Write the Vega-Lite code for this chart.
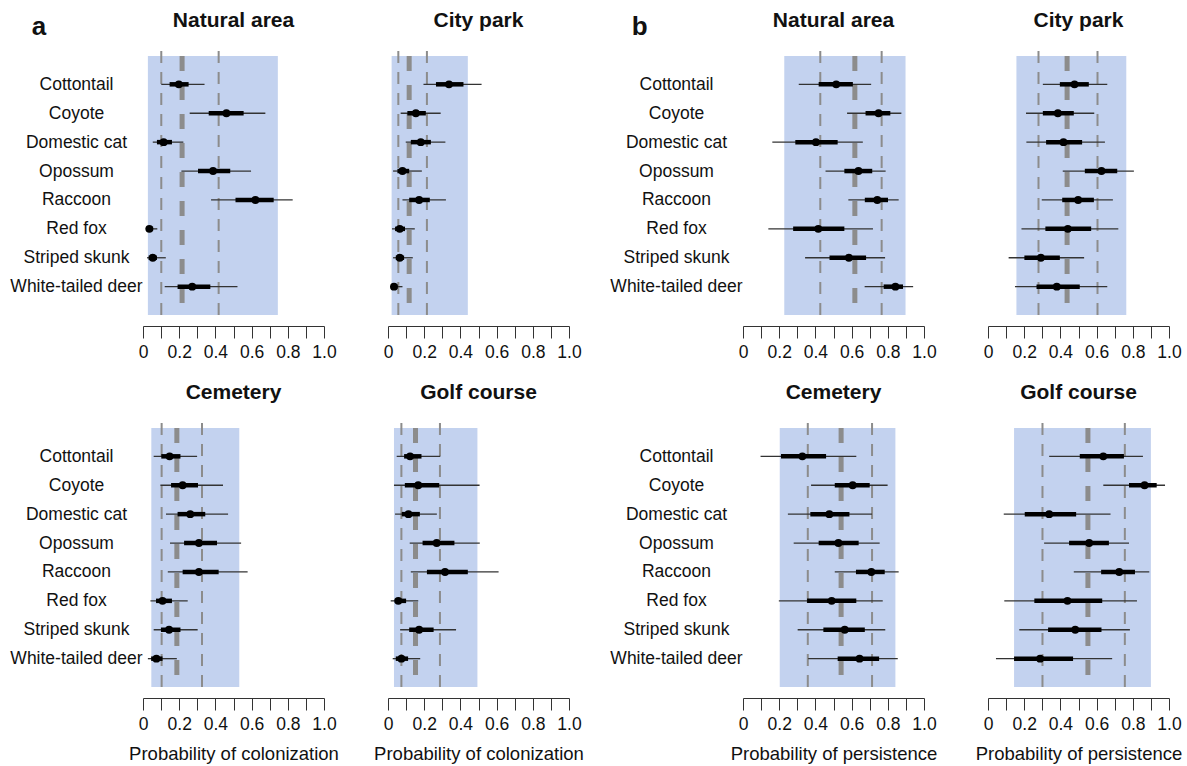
{
"$schema":"https://vega.github.io/schema/vega-lite/v6.json",
"background":"white",
"padding":{"left":9,"top":10,"right":5,"bottom":3},
"config":{
 "view":{"stroke":null},
 "font":"Liberation Sans",
 "title":{"font":"Liberation Sans","fontSize":21,"fontWeight":"bold","color":"#111","baseline":"alphabetic","offset":19},
 "axis":{"labelFont":"Liberation Sans","titleFont":"Liberation Sans","labelFontSize":17.5,"labelColor":"#111","titleColor":"#111","titleFontWeight":"normal","titleFontSize":18.5,"grid":false,"domainColor":"#333","tickColor":"#333","labelFlush":false},
 "axisX":{"tickSize":12,"offset":11,"labelPadding":5,"titlePadding":12,"labelOverlap":false},
 "axisY":{"domain":false,"ticks":false,"tickSize":0,"labelAlign":"center","labelPadding":67,"labelBaseline":"middle"}
},
"datasets":{
"ref":[
{"measure":"Colonization","site":"Natural area","band_lo":0.027,"band_hi":0.745,"ci_lo":0.101,"ci_hi":0.418,"mean":0.216},
{"measure":"Colonization","site":"City park","band_lo":0.020,"band_hi":0.441,"ci_lo":0.057,"ci_hi":0.215,"mean":0.117},
{"measure":"Colonization","site":"Cemetery","band_lo":0.046,"band_hi":0.532,"ci_lo":0.103,"ci_hi":0.326,"mean":0.187},
{"measure":"Colonization","site":"Golf course","band_lo":0.033,"band_hi":0.494,"ci_lo":0.074,"ci_hi":0.287,"mean":0.152},
{"measure":"Persistence","site":"Natural area","band_lo":0.228,"band_hi":0.898,"ci_lo":0.427,"ci_hi":0.766,"mean":0.618},
{"measure":"Persistence","site":"City park","band_lo":0.157,"band_hi":0.764,"ci_lo":0.279,"ci_hi":0.605,"mean":0.437},
{"measure":"Persistence","site":"Cemetery","band_lo":0.203,"band_hi":0.842,"ci_lo":0.358,"ci_hi":0.713,"mean":0.542},
{"measure":"Persistence","site":"Golf course","band_lo":0.144,"band_hi":0.900,"ci_lo":0.301,"ci_hi":0.756,"mean":0.552}
],
"est":[
{"measure":"Colonization","site":"Natural area","species":"Cottontail","est":0.198,"lo50":0.147,"hi50":0.252,"lo95":0.101,"hi95":0.340},
{"measure":"Colonization","site":"Natural area","species":"Coyote","est":0.461,"lo50":0.363,"hi50":0.556,"lo95":0.258,"hi95":0.676},
{"measure":"Colonization","site":"Natural area","species":"Domestic cat","est":0.114,"lo50":0.077,"hi50":0.160,"lo95":0.054,"hi95":0.223},
{"measure":"Colonization","site":"Natural area","species":"Opossum","est":0.387,"lo50":0.304,"hi50":0.482,"lo95":0.212,"hi95":0.597},
{"measure":"Colonization","site":"Natural area","species":"Raccoon","est":0.621,"lo50":0.511,"hi50":0.722,"lo95":0.376,"hi95":0.827},
{"measure":"Colonization","site":"Natural area","species":"Red fox","est":0.035,"lo50":0.022,"hi50":0.056,"lo95":0.015,"hi95":0.079},
{"measure":"Colonization","site":"Natural area","species":"Striped skunk","est":0.054,"lo50":0.031,"hi50":0.077,"lo95":0.022,"hi95":0.126},
{"measure":"Colonization","site":"Natural area","species":"White-tailed deer","est":0.272,"lo50":0.191,"hi50":0.372,"lo95":0.120,"hi95":0.522},
{"measure":"Colonization","site":"City park","species":"Cottontail","est":0.337,"lo50":0.265,"hi50":0.417,"lo95":0.196,"hi95":0.517},
{"measure":"Colonization","site":"City park","species":"Coyote","est":0.154,"lo50":0.107,"hi50":0.209,"lo95":0.070,"hi95":0.291},
{"measure":"Colonization","site":"City park","species":"Domestic cat","est":0.181,"lo50":0.126,"hi50":0.237,"lo95":0.098,"hi95":0.317},
{"measure":"Colonization","site":"City park","species":"Opossum","est":0.080,"lo50":0.052,"hi50":0.117,"lo95":0.028,"hi95":0.187},
{"measure":"Colonization","site":"City park","species":"Raccoon","est":0.172,"lo50":0.117,"hi50":0.231,"lo95":0.080,"hi95":0.320},
{"measure":"Colonization","site":"City park","species":"Red fox","est":0.065,"lo50":0.039,"hi50":0.094,"lo95":0.022,"hi95":0.148},
{"measure":"Colonization","site":"City park","species":"Striped skunk","est":0.065,"lo50":0.043,"hi50":0.089,"lo95":0.028,"hi95":0.137},
{"measure":"Colonization","site":"City park","species":"White-tailed deer","est":0.033,"lo50":0.019,"hi50":0.052,"lo95":0.013,"hi95":0.080},
{"measure":"Colonization","site":"Cemetery","species":"Cottontail","est":0.147,"lo50":0.101,"hi50":0.207,"lo95":0.059,"hi95":0.299},
{"measure":"Colonization","site":"Cemetery","species":"Coyote","est":0.219,"lo50":0.155,"hi50":0.304,"lo95":0.096,"hi95":0.442},
{"measure":"Colonization","site":"Cemetery","species":"Domestic cat","est":0.261,"lo50":0.191,"hi50":0.344,"lo95":0.127,"hi95":0.470},
{"measure":"Colonization","site":"Cemetery","species":"Opossum","est":0.309,"lo50":0.227,"hi50":0.409,"lo95":0.149,"hi95":0.542},
{"measure":"Colonization","site":"Cemetery","species":"Raccoon","est":0.309,"lo50":0.219,"hi50":0.418,"lo95":0.137,"hi95":0.578},
{"measure":"Colonization","site":"Cemetery","species":"Red fox","est":0.108,"lo50":0.072,"hi50":0.160,"lo95":0.041,"hi95":0.247},
{"measure":"Colonization","site":"Cemetery","species":"Striped skunk","est":0.144,"lo50":0.099,"hi50":0.207,"lo95":0.059,"hi95":0.302},
{"measure":"Colonization","site":"Cemetery","species":"White-tailed deer","est":0.074,"lo50":0.045,"hi50":0.108,"lo95":0.027,"hi95":0.187},
{"measure":"Colonization","site":"Golf course","species":"Cottontail","est":0.122,"lo50":0.089,"hi50":0.185,"lo95":0.048,"hi95":0.289},
{"measure":"Colonization","site":"Golf course","species":"Coyote","est":0.167,"lo50":0.093,"hi50":0.283,"lo95":0.033,"hi95":0.506},
{"measure":"Colonization","site":"Golf course","species":"Domestic cat","est":0.113,"lo50":0.076,"hi50":0.176,"lo95":0.039,"hi95":0.270},
{"measure":"Colonization","site":"Golf course","species":"Opossum","est":0.269,"lo50":0.191,"hi50":0.367,"lo95":0.120,"hi95":0.507},
{"measure":"Colonization","site":"Golf course","species":"Raccoon","est":0.315,"lo50":0.215,"hi50":0.441,"lo95":0.126,"hi95":0.611},
{"measure":"Colonization","site":"Golf course","species":"Red fox","est":0.057,"lo50":0.037,"hi50":0.100,"lo95":0.015,"hi95":0.167},
{"measure":"Colonization","site":"Golf course","species":"Striped skunk","est":0.172,"lo50":0.117,"hi50":0.252,"lo95":0.067,"hi95":0.376},
{"measure":"Colonization","site":"Golf course","species":"White-tailed deer","est":0.074,"lo50":0.043,"hi50":0.111,"lo95":0.026,"hi95":0.178},
{"measure":"Persistence","site":"Natural area","species":"Cottontail","est":0.515,"lo50":0.418,"hi50":0.607,"lo95":0.308,"hi95":0.708},
{"measure":"Persistence","site":"Natural area","species":"Coyote","est":0.749,"lo50":0.677,"hi50":0.814,"lo95":0.575,"hi95":0.875},
{"measure":"Persistence","site":"Natural area","species":"Domestic cat","est":0.403,"lo50":0.289,"hi50":0.523,"lo95":0.162,"hi95":0.662},
{"measure":"Persistence","site":"Natural area","species":"Opossum","est":0.638,"lo50":0.560,"hi50":0.714,"lo95":0.456,"hi95":0.788},
{"measure":"Persistence","site":"Natural area","species":"Raccoon","est":0.742,"lo50":0.673,"hi50":0.801,"lo95":0.582,"hi95":0.860},
{"measure":"Persistence","site":"Natural area","species":"Red fox","est":0.416,"lo50":0.277,"hi50":0.560,"lo95":0.140,"hi95":0.718},
{"measure":"Persistence","site":"Natural area","species":"Striped skunk","est":0.585,"lo50":0.478,"hi50":0.680,"lo95":0.343,"hi95":0.785},
{"measure":"Persistence","site":"Natural area","species":"White-tailed deer","est":0.842,"lo50":0.777,"hi50":0.884,"lo95":0.672,"hi95":0.940},
{"measure":"Persistence","site":"City park","species":"Cottontail","est":0.478,"lo50":0.397,"hi50":0.557,"lo95":0.303,"hi95":0.659},
{"measure":"Persistence","site":"City park","species":"Coyote","est":0.386,"lo50":0.303,"hi50":0.474,"lo95":0.210,"hi95":0.587},
{"measure":"Persistence","site":"City park","species":"Domestic cat","est":0.417,"lo50":0.321,"hi50":0.520,"lo95":0.212,"hi95":0.646},
{"measure":"Persistence","site":"City park","species":"Opossum","est":0.627,"lo50":0.535,"hi50":0.714,"lo95":0.413,"hi95":0.806},
{"measure":"Persistence","site":"City park","species":"Raccoon","est":0.498,"lo50":0.410,"hi50":0.585,"lo95":0.297,"hi95":0.690},
{"measure":"Persistence","site":"City park","species":"Red fox","est":0.441,"lo50":0.317,"hi50":0.570,"lo95":0.185,"hi95":0.720},
{"measure":"Persistence","site":"City park","species":"Striped skunk","est":0.292,"lo50":0.201,"hi50":0.397,"lo95":0.114,"hi95":0.531},
{"measure":"Persistence","site":"City park","species":"White-tailed deer","est":0.380,"lo50":0.268,"hi50":0.507,"lo95":0.149,"hi95":0.659},
{"measure":"Persistence","site":"Cemetery","species":"Cottontail","est":0.328,"lo50":0.210,"hi50":0.459,"lo95":0.097,"hi95":0.626},
{"measure":"Persistence","site":"Cemetery","species":"Coyote","est":0.606,"lo50":0.507,"hi50":0.700,"lo95":0.376,"hi95":0.799},
{"measure":"Persistence","site":"Cemetery","species":"Domestic cat","est":0.477,"lo50":0.372,"hi50":0.588,"lo95":0.248,"hi95":0.713},
{"measure":"Persistence","site":"Cemetery","species":"Opossum","est":0.527,"lo50":0.418,"hi50":0.639,"lo95":0.280,"hi95":0.755},
{"measure":"Persistence","site":"Cemetery","species":"Raccoon","est":0.709,"lo50":0.624,"hi50":0.783,"lo95":0.507,"hi95":0.860},
{"measure":"Persistence","site":"Cemetery","species":"Red fox","est":0.490,"lo50":0.354,"hi50":0.626,"lo95":0.198,"hi95":0.772},
{"measure":"Persistence","site":"Cemetery","species":"Striped skunk","est":0.562,"lo50":0.444,"hi50":0.673,"lo95":0.302,"hi95":0.786},
{"measure":"Persistence","site":"Cemetery","species":"White-tailed deer","est":0.644,"lo50":0.523,"hi50":0.752,"lo95":0.360,"hi95":0.855},
{"measure":"Persistence","site":"Golf course","species":"Cottontail","est":0.637,"lo50":0.507,"hi50":0.751,"lo95":0.338,"hi95":0.856},
{"measure":"Persistence","site":"Golf course","species":"Coyote","est":0.865,"lo50":0.779,"hi50":0.932,"lo95":0.637,"hi95":0.978},
{"measure":"Persistence","site":"Golf course","species":"Domestic cat","est":0.338,"lo50":0.203,"hi50":0.487,"lo95":0.087,"hi95":0.677},
{"measure":"Persistence","site":"Golf course","species":"Opossum","est":0.559,"lo50":0.448,"hi50":0.668,"lo95":0.310,"hi95":0.779},
{"measure":"Persistence","site":"Golf course","species":"Raccoon","est":0.725,"lo50":0.625,"hi50":0.812,"lo95":0.474,"hi95":0.891},
{"measure":"Persistence","site":"Golf course","species":"Red fox","est":0.439,"lo50":0.256,"hi50":0.631,"lo95":0.090,"hi95":0.823},
{"measure":"Persistence","site":"Golf course","species":"Striped skunk","est":0.482,"lo50":0.332,"hi50":0.627,"lo95":0.173,"hi95":0.784},
{"measure":"Persistence","site":"Golf course","species":"White-tailed deer","est":0.288,"lo50":0.144,"hi50":0.470,"lo95":0.044,"hi95":0.686}
]
},
"hconcat":[
{"title":{"text":"a","anchor":"start","fontSize":26,"dx":22,"offset":-51,"baseline":"alphabetic"},
 "vconcat":[
  {"hconcat":[
   {"width":181,"height":259,"title":"Natural area","resolve":{"axis":{"x":"independent"}},"layer":[
    {"data":{"name":"ref"},"transform":[{"filter":"datum.measure==='Colonization' && datum.site==='Natural area'"}],"mark":{"type":"rect","color":"#c3d2ef"},"encoding":{"x":{"field":"band_lo","type":"quantitative","scale":{"domain":[0,1]},"axis":{"orient":"bottom","title":null,"values":[0,0.1,0.2,0.3,0.4,0.5,0.6,0.7,0.8,0.9,1],"labelOverlap":false,"labelExpr":"datum.value==0 ? '0' : (round(datum.value*10)%2==0 ? format(datum.value,'.1f') : '')"}},"x2":{"field":"band_hi"}}},
    {"data":{"name":"ref"},"transform":[{"filter":"datum.measure==='Colonization' && datum.site==='Natural area'"},{"fold":["ci_lo","ci_hi"],"as":["bound","value"]}],"mark":{"type":"rule","color":"#8c8c8c","strokeWidth":2,"strokeDash":[12,9],"yOffset":-5,"y2Offset":11},"encoding":{"x":{"field":"value","type":"quantitative","axis":null}}},
    {"data":{"name":"ref"},"transform":[{"filter":"datum.measure==='Colonization' && datum.site==='Natural area'"}],"mark":{"type":"rule","color":"#8c8c8c","strokeWidth":5,"strokeDash":[15,14],"y2Offset":11},"encoding":{"x":{"field":"mean","type":"quantitative","axis":null}}},
    {"data":{"name":"est"},"transform":[{"filter":"datum.measure==='Colonization' && datum.site==='Natural area'"}],"mark":{"type":"rule","color":"#333","strokeWidth":1.3},"encoding":{"y":{"field":"species","type":"nominal","sort":null,"scale":{"type":"point","padding":0.98},"axis":{"title":null}},"x":{"field":"lo95","type":"quantitative","axis":null},"x2":{"field":"hi95"}}},
    {"data":{"name":"est"},"transform":[{"filter":"datum.measure==='Colonization' && datum.site==='Natural area'"}],"mark":{"type":"rule","color":"#000","strokeWidth":4.5},"encoding":{"y":{"field":"species","type":"nominal","sort":null},"x":{"field":"lo50","type":"quantitative","axis":null},"x2":{"field":"hi50"}}},
    {"data":{"name":"est"},"transform":[{"filter":"datum.measure==='Colonization' && datum.site==='Natural area'"}],"mark":{"type":"circle","color":"#000","size":62,"opacity":1},"encoding":{"y":{"field":"species","type":"nominal","sort":null},"x":{"field":"est","type":"quantitative","axis":null}}}
   ]},
   {"width":181,"height":259,"title":"City park","resolve":{"axis":{"x":"independent"}},"layer":[
    {"data":{"name":"ref"},"transform":[{"filter":"datum.measure==='Colonization' && datum.site==='City park'"}],"mark":{"type":"rect","color":"#c3d2ef"},"encoding":{"x":{"field":"band_lo","type":"quantitative","scale":{"domain":[0,1]},"axis":{"orient":"bottom","title":null,"values":[0,0.1,0.2,0.3,0.4,0.5,0.6,0.7,0.8,0.9,1],"labelOverlap":false,"labelExpr":"datum.value==0 ? '0' : (round(datum.value*10)%2==0 ? format(datum.value,'.1f') : '')"}},"x2":{"field":"band_hi"}}},
    {"data":{"name":"ref"},"transform":[{"filter":"datum.measure==='Colonization' && datum.site==='City park'"},{"fold":["ci_lo","ci_hi"],"as":["bound","value"]}],"mark":{"type":"rule","color":"#8c8c8c","strokeWidth":2,"strokeDash":[12,9],"yOffset":-5,"y2Offset":11},"encoding":{"x":{"field":"value","type":"quantitative","axis":null}}},
    {"data":{"name":"ref"},"transform":[{"filter":"datum.measure==='Colonization' && datum.site==='City park'"}],"mark":{"type":"rule","color":"#8c8c8c","strokeWidth":5,"strokeDash":[15,14],"y2Offset":11},"encoding":{"x":{"field":"mean","type":"quantitative","axis":null}}},
    {"data":{"name":"est"},"transform":[{"filter":"datum.measure==='Colonization' && datum.site==='City park'"}],"mark":{"type":"rule","color":"#333","strokeWidth":1.3},"encoding":{"y":{"field":"species","type":"nominal","sort":null,"scale":{"type":"point","padding":0.98},"axis":null},"x":{"field":"lo95","type":"quantitative","axis":null},"x2":{"field":"hi95"}}},
    {"data":{"name":"est"},"transform":[{"filter":"datum.measure==='Colonization' && datum.site==='City park'"}],"mark":{"type":"rule","color":"#000","strokeWidth":4.5},"encoding":{"y":{"field":"species","type":"nominal","sort":null,"axis":null},"x":{"field":"lo50","type":"quantitative","axis":null},"x2":{"field":"hi50"}}},
    {"data":{"name":"est"},"transform":[{"filter":"datum.measure==='Colonization' && datum.site==='City park'"}],"mark":{"type":"circle","color":"#000","size":62,"opacity":1},"encoding":{"y":{"field":"species","type":"nominal","sort":null,"axis":null},"x":{"field":"est","type":"quantitative","axis":null}}}
   ]}
  ],"spacing":64,"bounds":"flush"},
  {"hconcat":[
   {"width":181,"height":259,"title":"Cemetery","resolve":{"axis":{"x":"independent"}},"layer":[
    {"data":{"name":"ref"},"transform":[{"filter":"datum.measure==='Colonization' && datum.site==='Cemetery'"}],"mark":{"type":"rect","color":"#c3d2ef"},"encoding":{"x":{"field":"band_lo","type":"quantitative","scale":{"domain":[0,1]},"axis":{"orient":"bottom","title":"Probability of colonization","values":[0,0.1,0.2,0.3,0.4,0.5,0.6,0.7,0.8,0.9,1],"labelOverlap":false,"labelExpr":"datum.value==0 ? '0' : (round(datum.value*10)%2==0 ? format(datum.value,'.1f') : '')"}},"x2":{"field":"band_hi"}}},
    {"data":{"name":"ref"},"transform":[{"filter":"datum.measure==='Colonization' && datum.site==='Cemetery'"},{"fold":["ci_lo","ci_hi"],"as":["bound","value"]}],"mark":{"type":"rule","color":"#8c8c8c","strokeWidth":2,"strokeDash":[12,9],"yOffset":-5,"y2Offset":11},"encoding":{"x":{"field":"value","type":"quantitative","axis":null}}},
    {"data":{"name":"ref"},"transform":[{"filter":"datum.measure==='Colonization' && datum.site==='Cemetery'"}],"mark":{"type":"rule","color":"#8c8c8c","strokeWidth":5,"strokeDash":[15,14],"y2Offset":11},"encoding":{"x":{"field":"mean","type":"quantitative","axis":null}}},
    {"data":{"name":"est"},"transform":[{"filter":"datum.measure==='Colonization' && datum.site==='Cemetery'"}],"mark":{"type":"rule","color":"#333","strokeWidth":1.3},"encoding":{"y":{"field":"species","type":"nominal","sort":null,"scale":{"type":"point","padding":0.98},"axis":{"title":null}},"x":{"field":"lo95","type":"quantitative","axis":null},"x2":{"field":"hi95"}}},
    {"data":{"name":"est"},"transform":[{"filter":"datum.measure==='Colonization' && datum.site==='Cemetery'"}],"mark":{"type":"rule","color":"#000","strokeWidth":4.5},"encoding":{"y":{"field":"species","type":"nominal","sort":null},"x":{"field":"lo50","type":"quantitative","axis":null},"x2":{"field":"hi50"}}},
    {"data":{"name":"est"},"transform":[{"filter":"datum.measure==='Colonization' && datum.site==='Cemetery'"}],"mark":{"type":"circle","color":"#000","size":62,"opacity":1},"encoding":{"y":{"field":"species","type":"nominal","sort":null},"x":{"field":"est","type":"quantitative","axis":null}}}
   ]},
   {"width":181,"height":259,"title":"Golf course","resolve":{"axis":{"x":"independent"}},"layer":[
    {"data":{"name":"ref"},"transform":[{"filter":"datum.measure==='Colonization' && datum.site==='Golf course'"}],"mark":{"type":"rect","color":"#c3d2ef"},"encoding":{"x":{"field":"band_lo","type":"quantitative","scale":{"domain":[0,1]},"axis":{"orient":"bottom","title":"Probability of colonization","values":[0,0.1,0.2,0.3,0.4,0.5,0.6,0.7,0.8,0.9,1],"labelOverlap":false,"labelExpr":"datum.value==0 ? '0' : (round(datum.value*10)%2==0 ? format(datum.value,'.1f') : '')"}},"x2":{"field":"band_hi"}}},
    {"data":{"name":"ref"},"transform":[{"filter":"datum.measure==='Colonization' && datum.site==='Golf course'"},{"fold":["ci_lo","ci_hi"],"as":["bound","value"]}],"mark":{"type":"rule","color":"#8c8c8c","strokeWidth":2,"strokeDash":[12,9],"yOffset":-5,"y2Offset":11},"encoding":{"x":{"field":"value","type":"quantitative","axis":null}}},
    {"data":{"name":"ref"},"transform":[{"filter":"datum.measure==='Colonization' && datum.site==='Golf course'"}],"mark":{"type":"rule","color":"#8c8c8c","strokeWidth":5,"strokeDash":[15,14],"y2Offset":11},"encoding":{"x":{"field":"mean","type":"quantitative","axis":null}}},
    {"data":{"name":"est"},"transform":[{"filter":"datum.measure==='Colonization' && datum.site==='Golf course'"}],"mark":{"type":"rule","color":"#333","strokeWidth":1.3},"encoding":{"y":{"field":"species","type":"nominal","sort":null,"scale":{"type":"point","padding":0.98},"axis":null},"x":{"field":"lo95","type":"quantitative","axis":null},"x2":{"field":"hi95"}}},
    {"data":{"name":"est"},"transform":[{"filter":"datum.measure==='Colonization' && datum.site==='Golf course'"}],"mark":{"type":"rule","color":"#000","strokeWidth":4.5},"encoding":{"y":{"field":"species","type":"nominal","sort":null,"axis":null},"x":{"field":"lo50","type":"quantitative","axis":null},"x2":{"field":"hi50"}}},
    {"data":{"name":"est"},"transform":[{"filter":"datum.measure==='Colonization' && datum.site==='Golf course'"}],"mark":{"type":"circle","color":"#000","size":62,"opacity":1},"encoding":{"y":{"field":"species","type":"nominal","sort":null,"axis":null},"x":{"field":"est","type":"quantitative","axis":null}}}
   ]}
  ],"spacing":64,"bounds":"flush"}
 ],"spacing":21},
{"title":{"text":"b","anchor":"start","fontSize":26,"dx":22,"offset":-51,"baseline":"alphabetic"},
 "vconcat":[
  {"hconcat":[
   {"width":181,"height":259,"title":"Natural area","resolve":{"axis":{"x":"independent"}},"layer":[
    {"data":{"name":"ref"},"transform":[{"filter":"datum.measure==='Persistence' && datum.site==='Natural area'"}],"mark":{"type":"rect","color":"#c3d2ef"},"encoding":{"x":{"field":"band_lo","type":"quantitative","scale":{"domain":[0,1]},"axis":{"orient":"bottom","title":null,"values":[0,0.1,0.2,0.3,0.4,0.5,0.6,0.7,0.8,0.9,1],"labelOverlap":false,"labelExpr":"datum.value==0 ? '0' : (round(datum.value*10)%2==0 ? format(datum.value,'.1f') : '')"}},"x2":{"field":"band_hi"}}},
    {"data":{"name":"ref"},"transform":[{"filter":"datum.measure==='Persistence' && datum.site==='Natural area'"},{"fold":["ci_lo","ci_hi"],"as":["bound","value"]}],"mark":{"type":"rule","color":"#8c8c8c","strokeWidth":2,"strokeDash":[12,9],"yOffset":-5,"y2Offset":11},"encoding":{"x":{"field":"value","type":"quantitative","axis":null}}},
    {"data":{"name":"ref"},"transform":[{"filter":"datum.measure==='Persistence' && datum.site==='Natural area'"}],"mark":{"type":"rule","color":"#8c8c8c","strokeWidth":5,"strokeDash":[15,14],"y2Offset":11},"encoding":{"x":{"field":"mean","type":"quantitative","axis":null}}},
    {"data":{"name":"est"},"transform":[{"filter":"datum.measure==='Persistence' && datum.site==='Natural area'"}],"mark":{"type":"rule","color":"#333","strokeWidth":1.3},"encoding":{"y":{"field":"species","type":"nominal","sort":null,"scale":{"type":"point","padding":0.98},"axis":{"title":null}},"x":{"field":"lo95","type":"quantitative","axis":null},"x2":{"field":"hi95"}}},
    {"data":{"name":"est"},"transform":[{"filter":"datum.measure==='Persistence' && datum.site==='Natural area'"}],"mark":{"type":"rule","color":"#000","strokeWidth":4.5},"encoding":{"y":{"field":"species","type":"nominal","sort":null},"x":{"field":"lo50","type":"quantitative","axis":null},"x2":{"field":"hi50"}}},
    {"data":{"name":"est"},"transform":[{"filter":"datum.measure==='Persistence' && datum.site==='Natural area'"}],"mark":{"type":"circle","color":"#000","size":62,"opacity":1},"encoding":{"y":{"field":"species","type":"nominal","sort":null},"x":{"field":"est","type":"quantitative","axis":null}}}
   ]},
   {"width":181,"height":259,"title":"City park","resolve":{"axis":{"x":"independent"}},"layer":[
    {"data":{"name":"ref"},"transform":[{"filter":"datum.measure==='Persistence' && datum.site==='City park'"}],"mark":{"type":"rect","color":"#c3d2ef"},"encoding":{"x":{"field":"band_lo","type":"quantitative","scale":{"domain":[0,1]},"axis":{"orient":"bottom","title":null,"values":[0,0.1,0.2,0.3,0.4,0.5,0.6,0.7,0.8,0.9,1],"labelOverlap":false,"labelExpr":"datum.value==0 ? '0' : (round(datum.value*10)%2==0 ? format(datum.value,'.1f') : '')"}},"x2":{"field":"band_hi"}}},
    {"data":{"name":"ref"},"transform":[{"filter":"datum.measure==='Persistence' && datum.site==='City park'"},{"fold":["ci_lo","ci_hi"],"as":["bound","value"]}],"mark":{"type":"rule","color":"#8c8c8c","strokeWidth":2,"strokeDash":[12,9],"yOffset":-5,"y2Offset":11},"encoding":{"x":{"field":"value","type":"quantitative","axis":null}}},
    {"data":{"name":"ref"},"transform":[{"filter":"datum.measure==='Persistence' && datum.site==='City park'"}],"mark":{"type":"rule","color":"#8c8c8c","strokeWidth":5,"strokeDash":[15,14],"y2Offset":11},"encoding":{"x":{"field":"mean","type":"quantitative","axis":null}}},
    {"data":{"name":"est"},"transform":[{"filter":"datum.measure==='Persistence' && datum.site==='City park'"}],"mark":{"type":"rule","color":"#333","strokeWidth":1.3},"encoding":{"y":{"field":"species","type":"nominal","sort":null,"scale":{"type":"point","padding":0.98},"axis":null},"x":{"field":"lo95","type":"quantitative","axis":null},"x2":{"field":"hi95"}}},
    {"data":{"name":"est"},"transform":[{"filter":"datum.measure==='Persistence' && datum.site==='City park'"}],"mark":{"type":"rule","color":"#000","strokeWidth":4.5},"encoding":{"y":{"field":"species","type":"nominal","sort":null,"axis":null},"x":{"field":"lo50","type":"quantitative","axis":null},"x2":{"field":"hi50"}}},
    {"data":{"name":"est"},"transform":[{"filter":"datum.measure==='Persistence' && datum.site==='City park'"}],"mark":{"type":"circle","color":"#000","size":62,"opacity":1},"encoding":{"y":{"field":"species","type":"nominal","sort":null,"axis":null},"x":{"field":"est","type":"quantitative","axis":null}}}
   ]}
  ],"spacing":64,"bounds":"flush"},
  {"hconcat":[
   {"width":181,"height":259,"title":"Cemetery","resolve":{"axis":{"x":"independent"}},"layer":[
    {"data":{"name":"ref"},"transform":[{"filter":"datum.measure==='Persistence' && datum.site==='Cemetery'"}],"mark":{"type":"rect","color":"#c3d2ef"},"encoding":{"x":{"field":"band_lo","type":"quantitative","scale":{"domain":[0,1]},"axis":{"orient":"bottom","title":"Probability of persistence","values":[0,0.1,0.2,0.3,0.4,0.5,0.6,0.7,0.8,0.9,1],"labelOverlap":false,"labelExpr":"datum.value==0 ? '0' : (round(datum.value*10)%2==0 ? format(datum.value,'.1f') : '')"}},"x2":{"field":"band_hi"}}},
    {"data":{"name":"ref"},"transform":[{"filter":"datum.measure==='Persistence' && datum.site==='Cemetery'"},{"fold":["ci_lo","ci_hi"],"as":["bound","value"]}],"mark":{"type":"rule","color":"#8c8c8c","strokeWidth":2,"strokeDash":[12,9],"yOffset":-5,"y2Offset":11},"encoding":{"x":{"field":"value","type":"quantitative","axis":null}}},
    {"data":{"name":"ref"},"transform":[{"filter":"datum.measure==='Persistence' && datum.site==='Cemetery'"}],"mark":{"type":"rule","color":"#8c8c8c","strokeWidth":5,"strokeDash":[15,14],"y2Offset":11},"encoding":{"x":{"field":"mean","type":"quantitative","axis":null}}},
    {"data":{"name":"est"},"transform":[{"filter":"datum.measure==='Persistence' && datum.site==='Cemetery'"}],"mark":{"type":"rule","color":"#333","strokeWidth":1.3},"encoding":{"y":{"field":"species","type":"nominal","sort":null,"scale":{"type":"point","padding":0.98},"axis":{"title":null}},"x":{"field":"lo95","type":"quantitative","axis":null},"x2":{"field":"hi95"}}},
    {"data":{"name":"est"},"transform":[{"filter":"datum.measure==='Persistence' && datum.site==='Cemetery'"}],"mark":{"type":"rule","color":"#000","strokeWidth":4.5},"encoding":{"y":{"field":"species","type":"nominal","sort":null},"x":{"field":"lo50","type":"quantitative","axis":null},"x2":{"field":"hi50"}}},
    {"data":{"name":"est"},"transform":[{"filter":"datum.measure==='Persistence' && datum.site==='Cemetery'"}],"mark":{"type":"circle","color":"#000","size":62,"opacity":1},"encoding":{"y":{"field":"species","type":"nominal","sort":null},"x":{"field":"est","type":"quantitative","axis":null}}}
   ]},
   {"width":181,"height":259,"title":"Golf course","resolve":{"axis":{"x":"independent"}},"layer":[
    {"data":{"name":"ref"},"transform":[{"filter":"datum.measure==='Persistence' && datum.site==='Golf course'"}],"mark":{"type":"rect","color":"#c3d2ef"},"encoding":{"x":{"field":"band_lo","type":"quantitative","scale":{"domain":[0,1]},"axis":{"orient":"bottom","title":"Probability of persistence","values":[0,0.1,0.2,0.3,0.4,0.5,0.6,0.7,0.8,0.9,1],"labelOverlap":false,"labelExpr":"datum.value==0 ? '0' : (round(datum.value*10)%2==0 ? format(datum.value,'.1f') : '')"}},"x2":{"field":"band_hi"}}},
    {"data":{"name":"ref"},"transform":[{"filter":"datum.measure==='Persistence' && datum.site==='Golf course'"},{"fold":["ci_lo","ci_hi"],"as":["bound","value"]}],"mark":{"type":"rule","color":"#8c8c8c","strokeWidth":2,"strokeDash":[12,9],"yOffset":-5,"y2Offset":11},"encoding":{"x":{"field":"value","type":"quantitative","axis":null}}},
    {"data":{"name":"ref"},"transform":[{"filter":"datum.measure==='Persistence' && datum.site==='Golf course'"}],"mark":{"type":"rule","color":"#8c8c8c","strokeWidth":5,"strokeDash":[15,14],"y2Offset":11},"encoding":{"x":{"field":"mean","type":"quantitative","axis":null}}},
    {"data":{"name":"est"},"transform":[{"filter":"datum.measure==='Persistence' && datum.site==='Golf course'"}],"mark":{"type":"rule","color":"#333","strokeWidth":1.3},"encoding":{"y":{"field":"species","type":"nominal","sort":null,"scale":{"type":"point","padding":0.98},"axis":null},"x":{"field":"lo95","type":"quantitative","axis":null},"x2":{"field":"hi95"}}},
    {"data":{"name":"est"},"transform":[{"filter":"datum.measure==='Persistence' && datum.site==='Golf course'"}],"mark":{"type":"rule","color":"#000","strokeWidth":4.5},"encoding":{"y":{"field":"species","type":"nominal","sort":null,"axis":null},"x":{"field":"lo50","type":"quantitative","axis":null},"x2":{"field":"hi50"}}},
    {"data":{"name":"est"},"transform":[{"filter":"datum.measure==='Persistence' && datum.site==='Golf course'"}],"mark":{"type":"circle","color":"#000","size":62,"opacity":1},"encoding":{"y":{"field":"species","type":"nominal","sort":null,"axis":null},"x":{"field":"est","type":"quantitative","axis":null}}}
   ]}
  ],"spacing":64,"bounds":"flush"}
 ],"spacing":21}
],
"spacing":25
}
